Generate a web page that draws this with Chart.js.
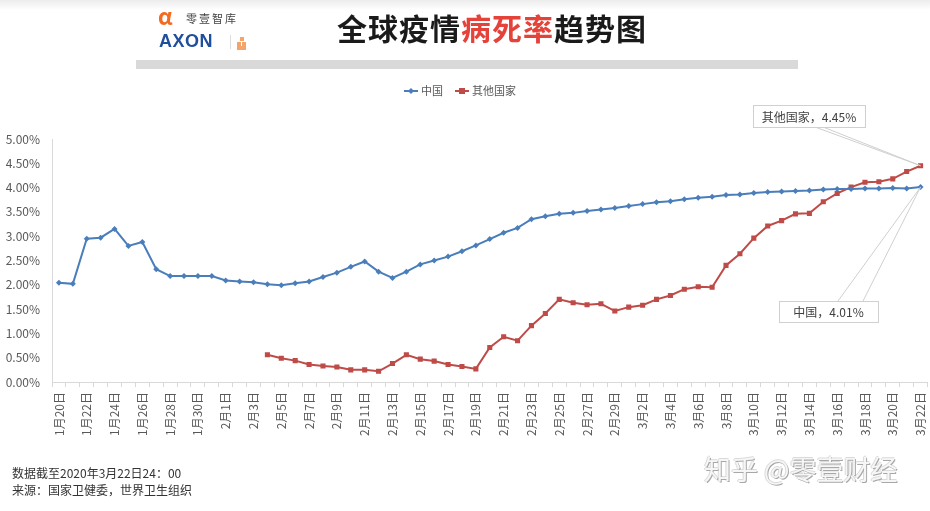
<!DOCTYPE html>
<html>
<head>
<meta charset="utf-8">
<script src="https://cdn.jsdelivr.net/npm/chart.js@4/dist/chart.umd.min.js"></script>
<style>
  html,body{margin:0;padding:0;background:#fff;}
  #wrap{position:relative;width:930px;height:511px;overflow:hidden;font-family:"Noto Sans CJK SC","Noto Sans",sans-serif;
        background:linear-gradient(#ececec 0px,#ffffff 10px,#ffffff 100%);}
  #c{position:absolute;left:0;top:0;}
  .abs{position:absolute;white-space:nowrap;}
  #title{left:337px;top:8px;font-size:30px;font-weight:bold;color:#1a1a1a;letter-spacing:1px;line-height:38px;}
  #title span{color:#e5423a;}
  #bar{left:136px;top:60px;width:662px;height:9px;background:#d9d9d9;}
  #alpha{left:158px;top:2px;font-size:22px;font-weight:bold;color:#f26b21;line-height:26px;}
  #lingyi{left:186px;top:10px;font-size:11px;color:#444;letter-spacing:2px;line-height:16px;}
  #axon{left:159px;top:30px;font-size:18px;font-weight:bold;color:#1f4e9c;font-family:"Liberation Sans",Arial,sans-serif;line-height:22px;letter-spacing:0.5px;}
  #sep{left:230px;top:35px;width:1px;height:14px;background:#ddd;}
  .blk{position:absolute;background:#f4a46a;width:4px;height:4px;}
  #foot1{left:12px;top:465px;font-size:12px;color:#333;line-height:16px;}
  #foot2{left:12px;top:482px;font-size:12px;color:#333;line-height:16px;}
  #wm{left:704px;top:452px;font-size:27px;color:#f6f6f6;line-height:34px;
      text-shadow:1px 1px 0 #a8a8a8,-1px 0 0 #dadada,0 -1px 0 #dadada;}
</style>
</head>
<body>
<div id="wrap">
  <canvas id="c" width="940" height="511"></canvas>
  <div class="abs" id="alpha">α</div>
  <div class="abs" id="lingyi">零壹智库</div>
  <div class="abs" id="axon">AXON</div>
  <div class="abs" id="sep"></div>
  <div class="blk" style="left:240px;top:37px;"></div>
  <div class="blk" style="left:237px;top:42px;"></div>
  <div class="blk" style="left:242px;top:42px;"></div>
  <div class="blk" style="left:237px;top:46px;width:9px;"></div>
  <div class="abs" id="title">全球疫情<span>病死率</span>趋势图</div>
  <div class="abs" id="bar"></div>
  <div class="abs" id="foot1">数据截至2020年3月22日24：00</div>
  <div class="abs" id="foot2">来源：国家卫健委，世界卫生组织</div>
  <div class="abs" id="wm">知乎 @零壹财经</div>
</div>
<script>
const dates = [
  "1月20日","1月21日","1月22日","1月23日","1月24日","1月25日","1月26日","1月27日","1月28日","1月29日","1月30日","1月31日",
  "2月1日","2月2日","2月3日","2月4日","2月5日","2月6日","2月7日","2月8日","2月9日","2月10日","2月11日","2月12日","2月13日","2月14日",
  "2月15日","2月16日","2月17日","2月18日","2月19日","2月20日","2月21日","2月22日","2月23日","2月24日","2月25日","2月26日","2月27日","2月28日","2月29日",
  "3月1日","3月2日","3月3日","3月4日","3月5日","3月6日","3月7日","3月8日","3月9日","3月10日","3月11日","3月12日","3月13日","3月14日",
  "3月15日","3月16日","3月17日","3月18日","3月19日","3月20日","3月21日","3月22日"
];
const seriesNames = ["中国","其他国家"];
const china = [
  2.04,2.02,2.95,2.97,3.15,2.80,2.88,2.32,2.18,2.18,2.18,2.18,
  2.09,2.07,2.05,2.01,1.99,2.03,2.07,2.16,2.25,2.37,2.48,2.27,2.14,2.27,
  2.42,2.50,2.58,2.69,2.81,2.94,3.07,3.17,3.35,3.41,3.46,3.48,3.52,3.55,3.58,
  3.62,3.66,3.70,3.72,3.76,3.79,3.81,3.85,3.86,3.89,3.91,3.92,3.93,3.94,
  3.96,3.97,3.97,3.98,3.98,3.99,3.98,4.01
];
const others = [
  null,null,null,null,null,null,null,null,null,null,null,null,
  null,null,null,0.56,0.49,0.44,0.36,0.33,0.31,0.25,0.25,0.22,0.38,0.56,
  0.47,0.43,0.36,0.32,0.27,0.71,0.93,0.85,1.16,1.41,1.70,1.63,1.59,1.61,1.46,
  1.54,1.58,1.70,1.78,1.91,1.96,1.95,2.40,2.64,2.96,3.21,3.32,3.46,3.47,
  3.71,3.88,4.01,4.11,4.12,4.18,4.33,4.45
];
const yTicks = [0,0.5,1,1.5,2,2.5,3,3.5,4,4.5,5];

const BLUE = "#4a7ebb", RED = "#be4b48";
const FONT = '"Noto Sans CJK SC","Noto Sans",sans-serif';

const overlay = {
  id: "overlay",
  afterDatasetsDraw(chart) {
    const ctx = chart.ctx;
    ctx.save();
    // legend
    const ly = 91;
    const items = [
      {x: 404, color: BLUE, shape: "diamond", text: seriesNames[0]},
      {x: 455, color: RED, shape: "square", text: seriesNames[1]}
    ];
    ctx.font = "11px " + FONT;
    ctx.textBaseline = "middle";
    items.forEach(it => {
      ctx.strokeStyle = it.color; ctx.lineWidth = 2;
      ctx.beginPath(); ctx.moveTo(it.x, ly); ctx.lineTo(it.x + 14, ly); ctx.stroke();
      ctx.fillStyle = it.color;
      const cx = it.x + 7;
      if (it.shape === "diamond") {
        ctx.beginPath(); ctx.moveTo(cx, ly - 3); ctx.lineTo(cx + 3, ly); ctx.lineTo(cx, ly + 3); ctx.lineTo(cx - 3, ly); ctx.closePath(); ctx.fill();
      } else {
        ctx.fillRect(cx - 3, ly - 3, 6, 6);
      }
      ctx.fillStyle = "#595959";
      ctx.textAlign = "left";
      ctx.fillText(it.text, it.x + 17, ly);
    });

    // callouts
    const last = dates.length - 1;
    const pBlue = chart.getDatasetMeta(0).data[last];
    const pRed = chart.getDatasetMeta(1).data[last];
    const callouts = [
      {box: [753, 105, 112, 22], from: [[815, 127], [823, 127]], pt: pRed,
       text: seriesNames[1] + "，" + others[last].toFixed(2) + "%"},
      {box: [779, 301, 99, 21], from: [[838, 301], [863, 301]], pt: pBlue,
       text: seriesNames[0] + "，" + china[last].toFixed(2) + "%"}
    ];
    callouts.forEach(c => {
      ctx.strokeStyle = "#cfcfcf"; ctx.lineWidth = 1;
      c.from.forEach(f => {
        ctx.beginPath(); ctx.moveTo(f[0], f[1]); ctx.lineTo(c.pt.x, c.pt.y); ctx.stroke();
      });
      const [bx, by, bw, bh] = c.box;
      ctx.fillStyle = "#fff";
      ctx.fillRect(bx, by, bw, bh);
      ctx.strokeStyle = "#d0d0d0";
      ctx.strokeRect(bx + 0.5, by + 0.5, bw, bh);
      ctx.fillStyle = "#404040";
      ctx.font = "12px " + FONT;
      ctx.textAlign = "center"; ctx.textBaseline = "middle";
      ctx.fillText(c.text, bx + bw / 2, by + bh / 2 + 1);
    });
    ctx.restore();
  }
};

new Chart(document.getElementById("c"), {
  type: "line",
  data: {
    labels: dates,
    datasets: [
      {label: seriesNames[0], data: china, borderColor: BLUE, backgroundColor: BLUE, borderWidth: 2,
       pointStyle: "rectRot", pointRadius: 3, pointBorderWidth: 0, tension: 0},
      {label: seriesNames[1], data: others, borderColor: RED, backgroundColor: RED, borderWidth: 2,
       pointStyle: "rect", pointRadius: 3.6, pointBorderWidth: 0, tension: 0, spanGaps: false}
    ]
  },
  options: {
    responsive: false,
    animation: false,
    devicePixelRatio: 1,
    layout: {padding: {top: 139, right: 3, left: 0, bottom: 0}},
    plugins: {legend: {display: false}, tooltip: {enabled: false}, title: {display: false}},
    scales: {
      x: {
        type: "category",
        offset: true,
        afterFit: s => { s.height = 129; },
        grid: {drawOnChartArea: false, drawTicks: true, tickLength: 5, color: "#d9d9d9", offset: true},
        border: {color: "#d9d9d9"},
        ticks: {
          autoSkip: false, maxRotation: 90, minRotation: 90, padding: 5,
          color: "#595959", font: {size: 12, family: FONT},
          callback: function(v, i) { return i % 2 === 0 ? dates[i] : ""; }
        }
      },
      y: {
        min: 0, max: 5,
        afterFit: s => { s.width = 52; },
        afterBuildTicks: s => { s.ticks = yTicks.map(v => ({value: v})); },
        grid: {color: "rgba(0,0,0,0)", drawTicks: false},
        border: {color: "#d9d9d9"},
        ticks: {
          padding: 12, color: "#595959", font: {size: 12, family: FONT},
          callback: v => Number(v).toFixed(2) + "%"
        }
      }
    }
  },
  plugins: [overlay]
});
</script>
</body>
</html>
